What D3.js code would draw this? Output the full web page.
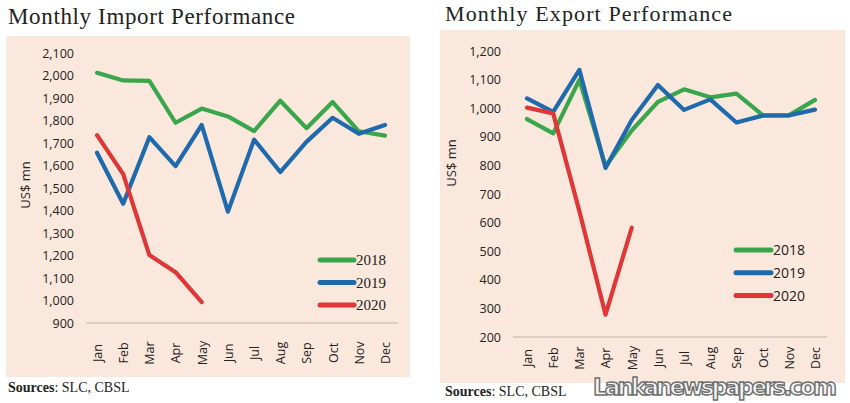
<!DOCTYPE html>
<html>
<head>
<meta charset="utf-8">
<script src="https://cdn.jsdelivr.net/npm/d3@7"></script>
<style>
  body { margin: 0; background: #fff; }
</style>
</head>
<body>
<div id="chart"></div>
<script>
// Données
const months = ["Jan", "Feb", "Mar", "Apr", "May", "Jun", "Jul", "Aug", "Sep", "Oct", "Nov", "Dec"];
const years = ["2018", "2019", "2020"];

const import2018 = [2012, 1978, 1976, 1790, 1853, 1818, 1753, 1888, 1766, 1882, 1752, 1733];
const import2019 = [1657, 1430, 1726, 1597, 1780, 1395, 1715, 1571, 1705, 1812, 1741, 1780];
const import2020 = [1735, 1562, 1202, 1126, 993];
const importTicks = [900, 1000, 1100, 1200, 1300, 1400, 1500, 1600, 1700, 1800, 1900, 2000, 2100];

const export2018 = [962, 912, 1099, 797, 922, 1022, 1066, 1038, 1051, 976, 975, 1029];
const export2019 = [1034, 987, 1134, 791, 959, 1081, 994, 1031, 950, 974, 975, 995];
const export2020 = [1002, 982, 640, 278, 582];
const exportTicks = [200, 300, 400, 500, 600, 700, 800, 900, 1000, 1100, 1200];

const colors = { "2018": "#3aa64c", "2019": "#1f6aad", "2020": "#df3737" };

//---------------------------------------------------------------------------------------

const svg = d3.select("#chart")
    .append("svg")
    .attr("width", 850)
    .attr("height", 403);

const sans = "'Open Sans', 'Noto Sans', sans-serif";

// Un panneau = un graphique
function drawPanel(p) {

    const g = svg.append("g");

    // fond
    g.append("rect")
        .attr("x", p.box[0]).attr("y", p.box[1])
        .attr("width", p.box[2]).attr("height", p.box[3])
        .attr("fill", "#fbe8dc");

    // titre
    g.append("text")
        .attr("x", p.titleX).attr("y", p.titleY)
        .attr("font-family", "'Liberation Serif', serif")
        .attr("font-size", p.titleSize)
        .attr("textLength", p.titleLen)
        .attr("fill", "#222")
        .text(p.title);

    const x = d3.scalePoint()
        .domain(months)
        .range(p.xRange);

    const y = d3.scaleLinear()
        .domain(d3.extent(p.ticks))
        .range(p.yRange);

    // ligne de l'axe X
    g.append("line")
        .attr("x1", p.axisX[0]).attr("x2", p.axisX[1])
        .attr("y1", y(p.ticks[0])).attr("y2", y(p.ticks[0]))
        .attr("stroke", "#bdb2aa")
        .attr("stroke-width", 1.2);

    // axe Y (texte seulement)
    const yAxis = g.append("g")
        .attr("transform", `translate(${p.yLabelX},0)`)
        .call(d3.axisLeft(y).tickValues(p.ticks).tickSize(0).tickPadding(0)
            .tickFormat(d3.format(",")));
    yAxis.select(".domain").remove();
    yAxis.selectAll("text")
        .attr("font-family", sans)
        .attr("font-size", "12.5px")
        .attr("fill", "#222");

    // axe X (mois verticaux)
    const xAxis = g.append("g")
        .attr("transform", `translate(0,${y(p.ticks[0])})`)
        .call(d3.axisBottom(x).tickSize(0));
    xAxis.select(".domain").remove();
    xAxis.selectAll("text")
        .attr("font-family", sans)
        .attr("font-size", "12.5px")
        .attr("fill", "#222")
        .attr("transform", "rotate(-90)")
        .attr("text-anchor", "middle")
        .attr("x", -p.monthOffset)
        .attr("y", 0)
        .attr("dy", "0.35em");

    // titre axe Y
    g.append("text")
        .attr("transform", `translate(${p.unitX},${p.unitY}) rotate(-90)`)
        .attr("text-anchor", "middle")
        .attr("font-family", sans)
        .attr("font-size", "13px")
        .attr("fill", "#222")
        .text("US$ mn");

    const line = d3.line()
        .x((d, i) => x(months[i]))
        .y(d => y(d));

    g.selectAll(".serie")
        .data(p.series)
        .join("path")
        .attr("class", "serie")
        .attr("d", d => line(d.values))
        .attr("fill", "none")
        .attr("stroke", d => colors[d.year])
        .attr("stroke-width", 4.2)
        .attr("stroke-linejoin", "round")
        .attr("stroke-linecap", "round");

    // légende
    const legend = g.selectAll(".legend")
        .data(years)
        .join("g")
        .attr("class", "legend")
        .attr("transform", (d, i) => `translate(${p.legX},${p.legY + i * p.legStep})`);

    legend.append("line")
        .attr("x1", 0).attr("x2", p.legLen)
        .attr("stroke", d => colors[d])
        .attr("stroke-width", 5)
        .attr("stroke-linecap", "round");

    legend.append("text")
        .attr("x", p.legLen + 2)
        .attr("dy", "0.35em")
        .attr("font-family", p.legFont)
        .attr("font-size", p.legSize)
        .attr("fill", "#222")
        .text(d => d);

    // sources
    const src = g.append("text")
        .attr("x", p.srcX).attr("y", p.srcY)
        .attr("font-family", "'Liberation Serif', serif")
        .attr("font-size", "14px")
        .attr("fill", "#222");
    src.append("tspan").attr("font-weight", "bold").text("Sources");
    src.append("tspan").text(": SLC, CBSL");
}

drawPanel({
    title: "Monthly Import Performance",
    titleX: 8, titleY: 24, titleSize: "23px", titleLen: 287,
    box: [6, 36, 404, 341],
    xRange: [97, 385],
    yRange: [323, 53],
    axisX: [86, 398],
    ticks: importTicks,
    yLabelX: 74,
    monthOffset: 30,
    unitX: 30, unitY: 185,
    series: [
        { year: "2018", values: import2018 },
        { year: "2019", values: import2019 },
        { year: "2020", values: import2020 }
    ],
    legX: 320, legY: 260, legStep: 22.5, legLen: 34,
    legFont: "'Liberation Serif', serif", legSize: "15px",
    srcX: 8, srcY: 392
});

drawPanel({
    title: "Monthly Export Performance",
    titleX: 445, titleY: 21, titleSize: "22px", titleLen: 287,
    box: [440, 30, 405, 353],
    xRange: [527, 815],
    yRange: [337, 51],
    axisX: [513, 827],
    ticks: exportTicks,
    yLabelX: 501,
    monthOffset: 21,
    unitX: 456, unitY: 163,
    series: [
        { year: "2018", values: export2018 },
        { year: "2019", values: export2019 },
        { year: "2020", values: export2020 }
    ],
    legX: 736, legY: 250, legStep: 22.8, legLen: 35,
    legFont: sans, legSize: "14px",
    srcX: 445, srcY: 396
});

// filigrane
svg.append("text")
    .attr("x", 715).attr("y", 395)
    .attr("text-anchor", "middle")
    .attr("font-family", "'DejaVu Sans', sans-serif")
    .attr("font-weight", "bold")
    .attr("font-size", "23px")
    .attr("textLength", 244)
    .attr("fill", "#f4f4f4")
    .attr("stroke", "#6e6e6e")
    .attr("stroke-width", 1.4)
    .text("Lankanewspapers.com");
</script>
</body>
</html>
